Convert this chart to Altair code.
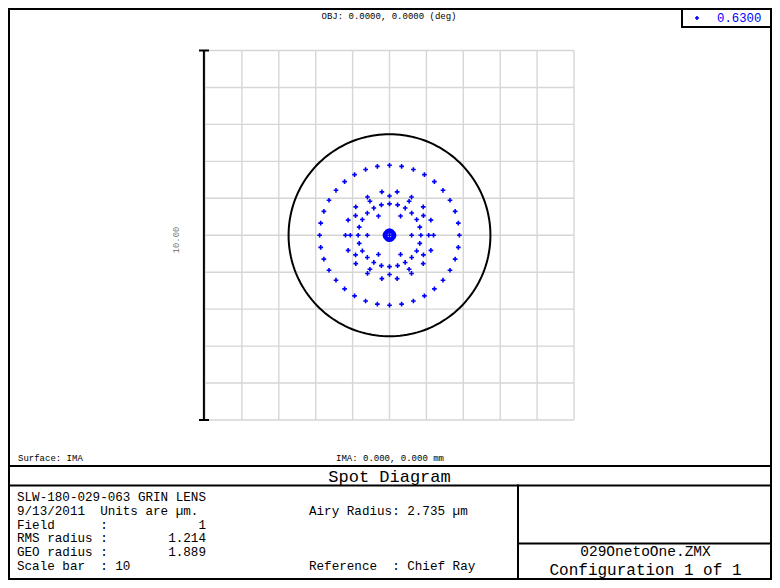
import numpy as np
import pandas as pd
import altair as alt

# ---------------- data ----------------
# hexapolar ray pattern: number of rays per ring and the radius (um) at which each ring lands
ring_counts = [1, 6, 12, 18, 24, 30, 36]
ring_radii_um = [0.0, 0.600, 1.062, 1.193, 0.850, 0.120, 1.893]
airy_radius_um = 2.735
grid_ticks = [-5, -4, -3, -2, -1, 0, 1, 2, 3, 4, 5]
wavelength_label = "0.6300"

info_lines = [
    "SLW-180-029-063 GRIN LENS",
    "9/13/2011  Units are µm.",
    "Field      :            1",
    "RMS radius :        1.214",
    "GEO radius :        1.889",
    "Scale bar  : 10",
]
airy_text = "Airy Radius: 2.735 µm"
ref_text = "Reference  : Chief Ray"
obj_text = "OBJ: 0.0000, 0.0000 (deg)"
surf_text = "Surface: IMA"
ima_text = "IMA: 0.000, 0.000 mm"
title_text = "Spot Diagram"
file_text = "029OnetoOne.ZMX"
conf_text = "Configuration 1 of 1"

# ---------------- build tables ----------------
rows = []
for n, r in zip(ring_counts, ring_radii_um):
    for k in range(n):
        a = np.deg2rad(360.0 * k / n)
        rows.append({"x": r * np.cos(a), "y": r * np.sin(a)})
spots = pd.DataFrame(rows)

th = np.deg2rad(np.arange(0, 362, 2))
airy = pd.DataFrame({"x": airy_radius_um * np.cos(th), "y": airy_radius_um * np.sin(th), "i": np.arange(len(th))})
grid = pd.DataFrame({"g": grid_ticks})
dummy = pd.DataFrame({"a": [0]})

W, H = 764, 572
xs = alt.Scale(domain=[-5, 5], range=[197, 566])
ys = alt.Scale(domain=[-5, 5], range=[412, 42.5])
FONT = "Liberation Mono"
BLUE = "#0000ff"
CROSS = "M-1,0L1,0M0,-1L0,1"

base = alt.Chart(dummy)


def rule(x1, y1, x2, y2, w=2, color="black"):
    return base.mark_rule(color=color, strokeWidth=w, strokeCap="square").encode(
        x=alt.value(x1), x2=alt.value(x2), y=alt.value(y1), y2=alt.value(y2)
    )


def text(t, x, y, size, align="left", color="black", angle=0):
    kw = dict(font=FONT, fontSize=size, align=align, baseline="middle", color=color)
    if angle:
        kw["angle"] = angle
    return base.mark_text(**kw).encode(x=alt.value(x), y=alt.value(y), text=alt.value(t))


gcol = "#d6d6d6"
grid_v = alt.Chart(grid).mark_rule(color=gcol, strokeWidth=1.4).encode(
    x=alt.X("g:Q", scale=xs, axis=None),
    y=alt.Y(datum=-5, scale=ys, axis=None),
    y2=alt.datum(5),
)
grid_h = alt.Chart(grid).mark_rule(color=gcol, strokeWidth=1.4).encode(
    y=alt.Y("g:Q", scale=ys, axis=None),
    x=alt.X(datum=-5, scale=xs, axis=None),
    x2=alt.datum(5),
)

scale_bar = base.mark_rule(color="black", strokeWidth=2).encode(
    x=alt.X(datum=-5.03, scale=xs, axis=None),
    y=alt.Y(datum=-5, scale=ys, axis=None),
    y2=alt.datum(5),
)
bar_top = base.mark_rule(color="black", strokeWidth=2).encode(
    x=alt.value(191), x2=alt.value(201), y=alt.Y(datum=5, scale=ys, axis=None)
)
bar_bot = base.mark_rule(color="black", strokeWidth=2).encode(
    x=alt.value(191), x2=alt.value(201), y=alt.Y(datum=-5, scale=ys, axis=None)
)

airy_line = alt.Chart(airy).mark_line(color="black", strokeWidth=2).encode(
    x=alt.X("x:Q", scale=xs, axis=None),
    y=alt.Y("y:Q", scale=ys, axis=None),
    order="i:Q",
)

spot_pts = alt.Chart(spots).mark_point(
    shape=CROSS, size=22, filled=False, color=BLUE, strokeWidth=1.6, opacity=1
).encode(
    x=alt.X("x:Q", scale=xs, axis=None),
    y=alt.Y("y:Q", scale=ys, axis=None),
)

legend_marker = base.mark_point(
    shape=CROSS, size=16, filled=False, color=BLUE, strokeWidth=1.6, opacity=1
).encode(x=alt.value(689), y=alt.value(10))

frame = [
    rule(1, 1, 763, 1),
    rule(1, 571, 763, 571),
    rule(1, 1, 1, 571),
    rule(763, 1, 763, 571),
    rule(1, 458, 763, 458),
    rule(1, 477.5, 763, 477.5),
    rule(510, 477.5, 510, 571),
    rule(510, 535.5, 763, 535.5),
    rule(674, 1, 674, 19),
    rule(674, 19, 763, 19),
]

line_y = [489, 502.8, 516.6, 530.4, 544.2, 558]
texts = [text(t.replace(" ", "\u00a0"), 9, yy, 12.6) for t, yy in zip(info_lines, line_y)]
texts += [
    text(airy_text.replace(" ", "\u00a0"), 301, line_y[1], 12.6),
    text(ref_text.replace(" ", "\u00a0"), 301, line_y[5], 12.6),
    text(obj_text, 381, 8, 9, align="center"),
    text(surf_text, 10, 450, 9),
    text(ima_text, 382, 450, 9, align="center"),
    text(title_text, 381.5, 468.5, 17, align="center"),
    text(file_text, 637.5, 543.5, 14.5, align="center"),
    text(conf_text, 637.5, 562, 16, align="center"),
    text(wavelength_label, 709, 10, 12.3, color=BLUE),
    text("10.00", 168, 232, 9, align="center", color="#808080", angle=270),
]

chart = alt.layer(
    grid_v, grid_h, scale_bar, bar_top, bar_bot, airy_line, spot_pts, legend_marker, *frame, *texts
).properties(
    width=W, height=H, padding=0, autosize=alt.AutoSizeParams(type="none"), background="white"
).configure_view(stroke=None)

chart.save("out.html", embed_options={"renderer": "svg", "actions": False})
